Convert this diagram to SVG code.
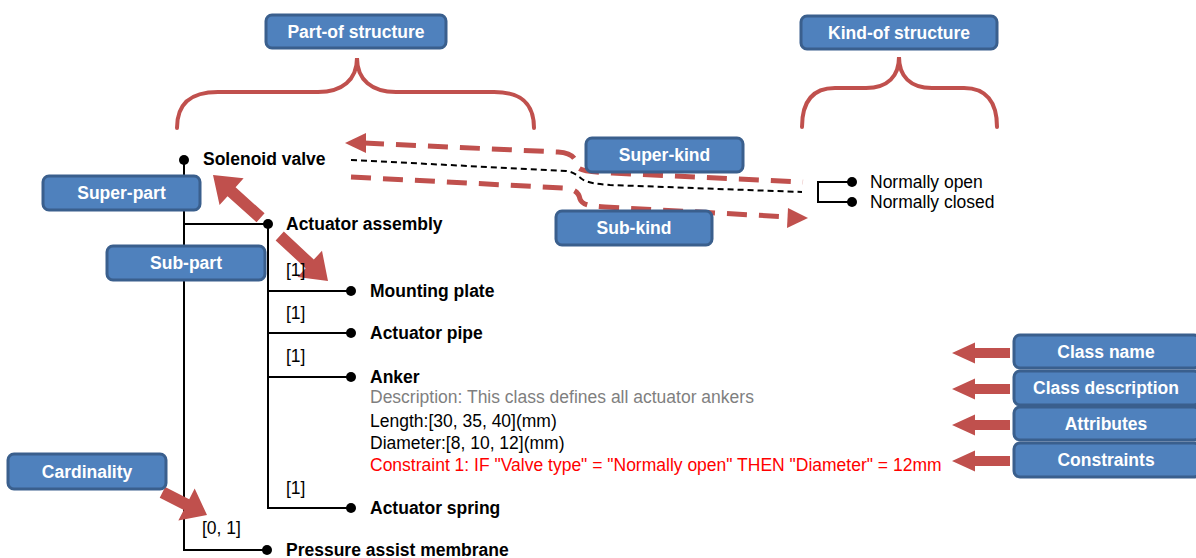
<svg xmlns="http://www.w3.org/2000/svg" width="1196" height="558" viewBox="0 0 1196 558">
<style>
text{font-family:"Liberation Sans",Arial,sans-serif;font-size:17.5px}
.n{font-weight:bold;fill:#000}
.t{fill:#000}
.desc{fill:#7f7f7f}
.cons{fill:#ff0000}
.box rect{fill:#4f81bd;stroke:#3a5f8d;stroke-width:3}
.box text{fill:#fff;font-weight:bold;text-anchor:middle}
.brace{fill:none;stroke:#c0504d;stroke-width:4;stroke-linecap:round}
.tree{fill:none;stroke:#000;stroke-width:2}
.dot{fill:#000}
.rdash{fill:none;stroke:#c0504d;stroke-width:5;stroke-dasharray:20 12}
.kdash{fill:none;stroke:#000;stroke-width:2;stroke-dasharray:6 4}
.fat{fill:#c0504d}
</style>
<defs>
<polygon id="fa" class="fat" points="0,0 -23,-10.5 -23,-5 -58,-5 -58,5 -23,5 -23,10.5"/>
</defs>

<g id="braces">
<path class="brace" d="M177,128 C177,104 190,92 218,92 L318,92 C342,92 357,80 357,58 C357,80 372,92 396,92 L494,92 C522,92 534,104 534,128"/>
<path class="brace" d="M802,127 C802,102 812,88 835,88 L866,88 C888,88 899,76 899,57 C899,76 910,88 932,88 L964,88 C986,88 997,102 997,127"/>
</g>

<g id="connectors">
<path class="tree" d="M184,160 V550 H267"/>
<path class="tree" d="M184,224 H268 V508 H351"/>
<path class="tree" d="M268,291 H351 M268,333 H351 M268,377 H351"/>
<path class="tree" d="M852,182 H818 V202 H852"/>
<path class="kdash" d="M351,160 L566,171 C574,172 578,176 582,179 C588,183 596,184 610,185 L802,192"/>
<path class="rdash" d="M364,143 L558,152 C572,153 576,158 577,166 C579,171 590,172 612,173 L803,182"/>
<polygon class="fat" points="345,143 366,133 366,153"/>
<path class="rdash" d="M351,177 L564,188 C575,189 579,193 580,199 C582,205 590,206 605,207 L790,217"/>
<polygon class="fat" points="808,218 788,208 787,228"/>
<polygon class="fat" transform="translate(213,175) rotate(-138)" points="0,0 -25,-18 -25,-6 -64,-6 -64,6 -25,6 -25,18"/>
<polygon class="fat" transform="translate(328,281) rotate(43)" points="0,0 -25,-18 -25,-6 -66,-6 -66,6 -25,6 -25,18"/>
<polygon class="fat" transform="translate(207,515) rotate(27)" points="0,0 -23,-18 -23,-6 -50,-6 -50,6 -23,6 -23,18"/>
<use href="#fa" transform="translate(952,353) rotate(180)"/>
<use href="#fa" transform="translate(952,389) rotate(180)"/>
<use href="#fa" transform="translate(952,425) rotate(180)"/>
<use href="#fa" transform="translate(952,461) rotate(180)"/>
</g>

<g id="node-solenoid-valve"><circle class="dot" cx="184" cy="160" r="5"/><text class="n" x="203" y="165">Solenoid valve</text></g>
<g id="node-actuator-assembly"><circle class="dot" cx="268" cy="224" r="5"/><text class="n" x="286" y="230">Actuator assembly</text></g>
<g id="node-mounting-plate"><text class="t" x="286" y="276">[1]</text><circle class="dot" cx="351" cy="291" r="5"/><text class="n" x="370" y="297">Mounting plate</text></g>
<g id="node-actuator-pipe"><text class="t" x="286" y="319">[1]</text><circle class="dot" cx="351" cy="333" r="5"/><text class="n" x="370" y="339">Actuator pipe</text></g>
<g id="node-anker"><text class="t" x="286" y="362">[1]</text><circle class="dot" cx="351" cy="377" r="5"/><text class="n" x="370" y="383">Anker</text>
<text class="desc" x="370" y="403">Description: This class defines all actuator ankers</text>
<text class="t" x="370" y="427">Length:[30, 35, 40](mm)</text>
<text class="t" x="370" y="449">Diameter:[8, 10, 12](mm)</text>
<text class="cons" x="370" y="471">Constraint 1: IF "Valve type" = "Normally open" THEN "Diameter" = 12mm</text></g>
<g id="node-actuator-spring"><text class="t" x="286" y="494">[1]</text><circle class="dot" cx="351" cy="508" r="5"/><text class="n" x="370" y="514">Actuator spring</text></g>
<g id="node-pressure-assist-membrane"><text class="t" x="202" y="534">[0, 1]</text><circle class="dot" cx="267" cy="550" r="5"/><text class="n" x="286" y="556">Pressure assist membrane</text></g>
<g id="node-normally-open"><circle class="dot" cx="852" cy="182" r="5"/><text class="t" x="870" y="188">Normally open</text></g>
<g id="node-normally-closed"><circle class="dot" cx="852" cy="202" r="5"/><text class="t" x="870" y="208">Normally closed</text></g>

<g id="label-part-of" class="box"><rect x="266" y="15" width="180" height="33" rx="6"/><text x="356" y="38">Part-of structure</text></g>
<g id="label-kind-of" class="box"><rect x="801" y="16" width="196" height="33" rx="6"/><text x="899" y="39">Kind-of structure</text></g>
<g id="label-super-kind" class="box"><rect x="586" y="138" width="157" height="34" rx="6"/><text x="664.5" y="161">Super-kind</text></g>
<g id="label-sub-kind" class="box"><rect x="556" y="211" width="156" height="34" rx="6"/><text x="634" y="234">Sub-kind</text></g>
<g id="label-super-part" class="box"><rect x="43" y="176" width="157" height="34" rx="6"/><text x="121.5" y="199">Super-part</text></g>
<g id="label-sub-part" class="box"><rect x="107" y="246" width="158" height="34" rx="6"/><text x="186" y="269">Sub-part</text></g>
<g id="label-cardinality" class="box"><rect x="8" y="454" width="158" height="35" rx="6"/><text x="87" y="478">Cardinality</text></g>
<g id="label-class-name" class="box"><rect x="1014" y="335" width="186" height="33" rx="6"/><text x="1106" y="358">Class name</text></g>
<g id="label-class-description" class="box"><rect x="1014" y="371" width="186" height="34" rx="6"/><text x="1106" y="394">Class description</text></g>
<g id="label-attributes" class="box"><rect x="1014" y="407" width="186" height="33" rx="6"/><text x="1106" y="430">Attributes</text></g>
<g id="label-constraints" class="box"><rect x="1014" y="443" width="186" height="34" rx="6"/><text x="1106" y="466">Constraints</text></g>
</svg>
